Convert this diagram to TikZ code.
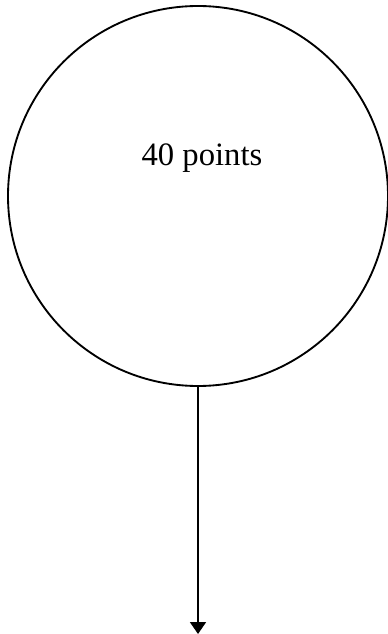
\documentclass[tikz,border=0pt]{standalone}
\usepackage{fontspec}
\setmainfont{Liberation Serif}
\usetikzlibrary{positioning, arrows.meta}

\begin{document}
\begin{tikzpicture}[x=0.75pt, y=-0.75pt,
    pool/.style={circle, draw, line width=1.4pt, minimum size=285pt, inner sep=0pt},
    flow/.style={line width=1.4pt, -{Triangle[width=12pt, length=9pt]}}]
    \useasboundingbox (0,0) rectangle (388,634);

    % the circle and its label
    \node[pool] (pool) at (198,196) {};
    \node[font=\fontsize{24.5pt}{28pt}\selectfont] (score) at (202,158) {40 points};

    % outgoing arrow
    \coordinate (tip) at (198,634);
    \draw[flow] (pool.south) -- (tip);
\end{tikzpicture}
\end{document}
